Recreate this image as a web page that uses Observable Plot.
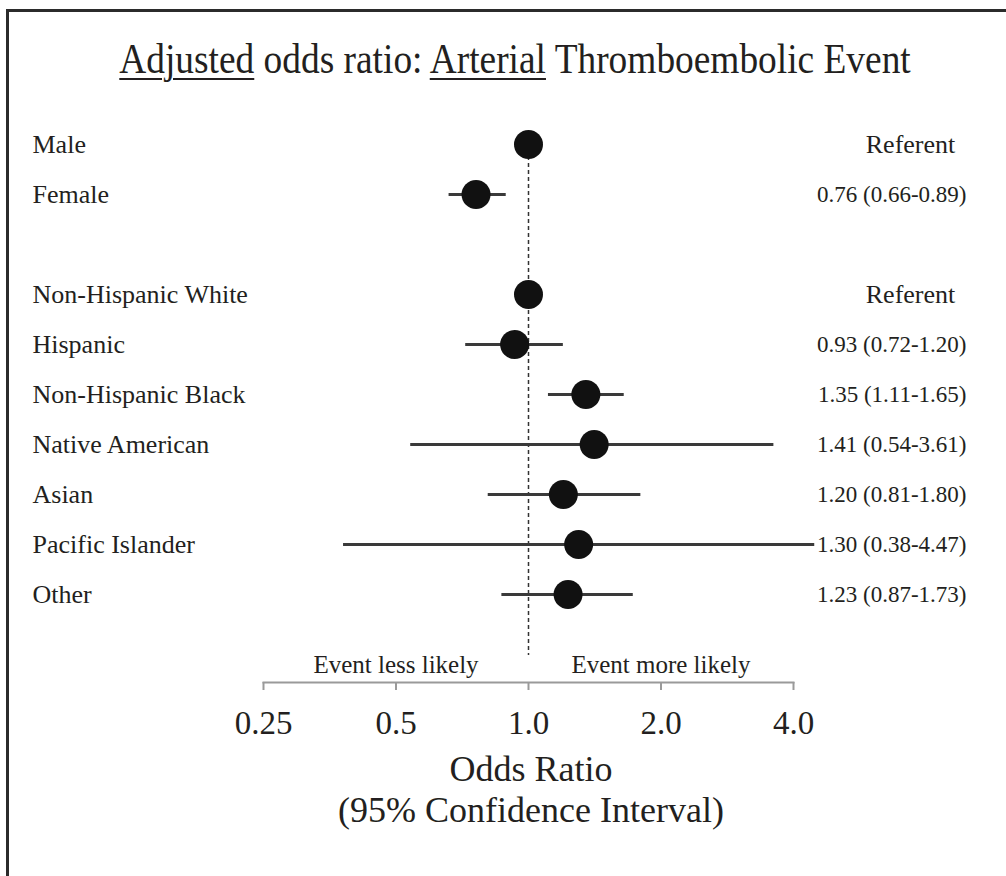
<!DOCTYPE html>
<html>
<head>
<meta charset="utf-8">
<script src="https://cdn.jsdelivr.net/npm/d3@7"></script>
<script src="https://cdn.jsdelivr.net/npm/@observablehq/plot@0.6"></script>
<style>
  html, body { margin: 0; padding: 0; background: #fff; overflow: hidden; width: 1006px; height: 876px; }
  body { position: relative; font-family: "Liberation Serif", serif; color: #231f20; }
  #border { position: absolute; left: 6px; top: 9px; width: 1200px; height: 1200px;
            border-left: 3px solid #2b2b2b; border-top: 3px solid #2b2b2b; box-sizing: border-box; }
  #title { position: absolute; top: 38px; left: 515px; white-space: nowrap; font-size: 42px; line-height: 42px;
           transform: translateX(-50%) scaleX(0.89); }
  #title u { text-decoration-thickness: 2px; text-underline-offset: 5px; }
  #chart { position: absolute; top: 100px; left: 0; }
  #caption { position: absolute; top: 749px; left: 531px; transform: translateX(-50%); white-space: nowrap;
             font-size: 36px; line-height: 41px; text-align: center; }
</style>
</head>
<body>
<div id="border"></div>
<div id="title"><u>Adjusted</u> odds ratio: <u>Arterial</u> Thromboembolic Event</div>
<div id="chart"></div>
<div id="caption">Odds Ratio<br>(95% Confidence Interval)</div>
<script>
// ---- data ----
const sexCategories = ["Male", "Female"];
const sexOR   = [1.00, 0.76];
const sexLow  = [null, 0.66];
const sexHigh = [null, 0.89];

const raceCategories = ["Non-Hispanic White", "Hispanic", "Non-Hispanic Black", "Native American", "Asian", "Pacific Islander", "Other"];
const raceOR   = [1.00, 0.93, 1.35, 1.41, 1.20, 1.30, 1.23];
const raceLow  = [null, 0.72, 1.11, 0.54, 0.81, 0.38, 0.87];
const raceHigh = [null, 1.20, 1.65, 3.61, 1.80, 4.47, 1.73];

const referentText = "Referent";
const tickValues = [0.25, 0.5, 1, 2, 4];
const tickLabels = ["0.25", "0.5", "1.0", "2.0", "4.0"];
const directionLabels = ["Event less likely", "Event more likely"];
const directionAt = [0.5, 2];

// ---- build table ----
function build(cats, or, lo, hi) {
  return cats.map((label, i) => ({
    label, or: or[i], lo: lo[i], hi: hi[i],
    ci: lo[i] == null ? referentText : `${or[i].toFixed(2)} (${lo[i].toFixed(2)}-${hi[i].toFixed(2)})`
  }));
}
const rows = [...build(sexCategories, sexOR, sexLow, sexHigh), ...build(raceCategories, raceOR, raceLow, raceHigh)];
const withCI = rows.filter(d => d.lo != null);
const referents = rows.filter(d => d.lo == null);
const yDomain = [...sexCategories, " ", ...raceCategories];
const directions = directionLabels.map((t, i) => ({text: t, x: directionAt[i]}));

const plot = Plot.plot({
  width: 1006,
  height: 660,
  marginLeft: 263,
  marginRight: 213,
  marginTop: 42,
  marginBottom: 78,
  x: {type: "log", domain: [0.25, 4]},
  y: {type: "point", domain: yDomain, range: [42, 496], padding: 0, axis: null},
  style: {fontFamily: "'Liberation Serif', serif", color: "#231f20", background: "transparent", overflow: "visible"},
  marks: [
    Plot.frame({anchor: "bottom", stroke: "#9a9a9a", strokeWidth: 2}),
    Plot.ruleX([1], {stroke: "#333", strokeWidth: 1.5, strokeDasharray: "4,3", insetBottom: 27}),
    Plot.ruleY(withCI, {y: "label", x1: "lo", x2: "hi", stroke: "#3a3a3a", strokeWidth: 3}),
    Plot.dot(rows, {x: "or", y: "label", r: 14.5, fill: "#111", stroke: "none"}),
    Plot.text(rows, {y: "label", text: "label", frameAnchor: "left", dx: -231, textAnchor: "start", fontSize: 26, fill: "#231f20"}),
    Plot.text(withCI, {y: "label", text: "ci", frameAnchor: "right", dx: 173, textAnchor: "end", fontSize: 23, fill: "#231f20"}),
    Plot.text(referents, {y: "label", text: "ci", frameAnchor: "right", dx: 117, textAnchor: "middle", fontSize: 26, fill: "#231f20"}),
    Plot.text(directions, {x: "x", text: "text", frameAnchor: "bottom", lineAnchor: "bottom", dy: -10, fontSize: 25, fill: "#231f20"}),
    Plot.axisX({ticks: tickValues, tickFormat: d => tickLabels[tickValues.indexOf(d)], tickSize: 8, tickPadding: 20,
                fontSize: 33, stroke: "#9a9a9a", strokeWidth: 2, fill: "#231f20", label: null})
  ]
});
document.getElementById("chart").appendChild(plot);
</script>
</body>
</html>
